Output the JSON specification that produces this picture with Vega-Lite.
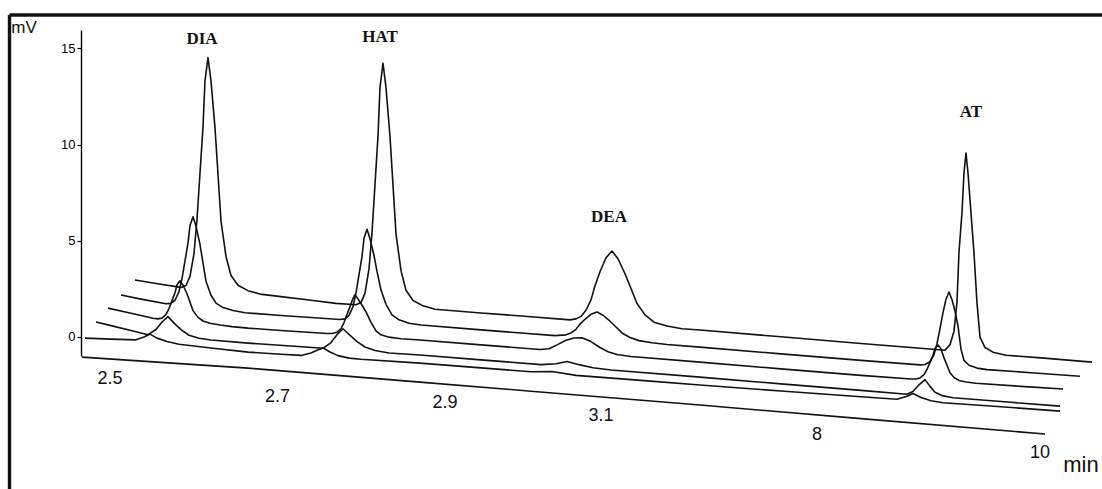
{
  "$schema": "https://vega.github.io/schema/vega-lite/v6.json",
  "width": 1021,
  "height": 326,
  "autosize": {"type": "none"},
  "padding": {"left": 81, "top": 30, "right": 0, "bottom": 133},
  "background": "white",
  "config": {"view": {"stroke": null}},
  "datasets": {
    "traces": [
      {"trace":"T0","t":1,"mV":-1.06},{"trace":"T0","t":80,"mV":-1.33},{"trace":"T0","t":167,"mV":-1.63},{"trace":"T0","t":250,"mV":-1.98},{"trace":"T0","t":339,"mV":-2.36},{"trace":"T0","t":450,"mV":-2.83},{"trace":"T0","t":619,"mV":-3.55},{"trace":"T0","t":780,"mV":-4.26},{"trace":"T0","t":964,"mV":-5.06},

      {"trace":"T1","t":4,"mV":-0.07},{"trace":"T1","t":30,"mV":-0.12},{"trace":"T1","t":55,"mV":-0.16},{"trace":"T1","t":63,"mV":-0.01},{"trace":"T1","t":69,"mV":0.14},{"trace":"T1","t":76,"mV":-0.07},{"trace":"T1","t":86,"mV":-0.25},{"trace":"T1","t":98,"mV":-0.39},{"trace":"T1","t":130,"mV":-0.58},{"trace":"T1","t":167,"mV":-0.80},{"trace":"T1","t":200,"mV":-0.91},{"trace":"T1","t":220,"mV":-0.97},{"trace":"T1","t":230,"mV":-0.84},{"trace":"T1","t":236,"mV":-0.70},{"trace":"T1","t":242,"mV":-0.58},{"trace":"T1","t":249,"mV":-0.79},{"trace":"T1","t":257,"mV":-0.98},{"trace":"T1","t":268,"mV":-1.11},{"trace":"T1","t":280,"mV":-1.17},{"trace":"T1","t":339,"mV":-1.37},{"trace":"T1","t":400,"mV":-1.62},{"trace":"T1","t":450,"mV":-1.82},{"trace":"T1","t":471,"mV":-1.81},{"trace":"T1","t":495,"mV":-2.01},{"trace":"T1","t":560,"mV":-2.27},{"trace":"T1","t":619,"mV":-2.51},{"trace":"T1","t":700,"mV":-2.82},{"trace":"T1","t":780,"mV":-3.12},{"trace":"T1","t":816,"mV":-3.25},{"trace":"T1","t":826,"mV":-3.09},{"trace":"T1","t":832,"mV":-2.95},{"trace":"T1","t":840,"mV":-3.16},{"trace":"T1","t":850,"mV":-3.33},{"trace":"T1","t":862,"mV":-3.43},{"trace":"T1","t":920,"mV":-3.64},{"trace":"T1","t":979,"mV":-3.87},

      {"trace":"T2","t":15,"mV":0.77},{"trace":"T2","t":30,"mV":0.58},{"trace":"T2","t":50,"mV":0.33},{"trace":"T2","t":67,"mV":0.11},{"trace":"T2","t":75,"mV":0.38},{"trace":"T2","t":81,"mV":0.77},{"trace":"T2","t":87,"mV":1.05},{"trace":"T2","t":93,"mV":0.71},{"trace":"T2","t":100,"mV":0.37},{"trace":"T2","t":108,"mV":0.08},{"trace":"T2","t":118,"mV":-0.08},{"trace":"T2","t":130,"mV":-0.17},{"trace":"T2","t":167,"mV":-0.33},{"trace":"T2","t":210,"mV":-0.48},{"trace":"T2","t":242,"mV":-0.60},{"trace":"T2","t":250,"mV":-0.30},{"trace":"T2","t":256,"mV":0.11},{"trace":"T2","t":262,"mV":0.42},{"trace":"T2","t":268,"mV":0.12},{"trace":"T2","t":276,"mV":-0.25},{"trace":"T2","t":284,"mV":-0.53},{"trace":"T2","t":294,"mV":-0.71},{"trace":"T2","t":308,"mV":-0.84},{"trace":"T2","t":339,"mV":-0.95},{"trace":"T2","t":400,"mV":-1.20},{"trace":"T2","t":460,"mV":-1.45},{"trace":"T2","t":475,"mV":-1.40},{"trace":"T2","t":486,"mV":-1.29},{"trace":"T2","t":498,"mV":-1.45},{"trace":"T2","t":512,"mV":-1.61},{"trace":"T2","t":530,"mV":-1.73},{"trace":"T2","t":619,"mV":-2.10},{"trace":"T2","t":700,"mV":-2.45},{"trace":"T2","t":780,"mV":-2.79},{"trace":"T2","t":826,"mV":-2.99},{"trace":"T2","t":832,"mV":-2.85},{"trace":"T2","t":838,"mV":-2.50},{"trace":"T2","t":844,"mV":-2.23},{"trace":"T2","t":849,"mV":-2.58},{"trace":"T2","t":854,"mV":-2.89},{"trace":"T2","t":861,"mV":-3.06},{"trace":"T2","t":872,"mV":-3.17},{"trace":"T2","t":930,"mV":-3.41},{"trace":"T2","t":979,"mV":-3.61},

      {"trace":"T3","t":27,"mV":1.49},{"trace":"T3","t":50,"mV":1.22},{"trace":"T3","t":72,"mV":0.96},{"trace":"T3","t":77,"mV":0.93},{"trace":"T3","t":81,"mV":0.97},{"trace":"T3","t":85,"mV":1.16},{"trace":"T3","t":88,"mV":1.47},{"trace":"T3","t":91,"mV":1.88},{"trace":"T3","t":94,"mV":2.29},{"trace":"T3","t":96,"mV":2.71},{"trace":"T3","t":99,"mV":2.91},{"trace":"T3","t":102,"mV":2.68},{"trace":"T3","t":106,"mV":2.24},{"trace":"T3","t":109,"mV":1.80},{"trace":"T3","t":112,"mV":1.36},{"trace":"T3","t":117,"mV":1.01},{"trace":"T3","t":122,"mV":0.82},{"trace":"T3","t":129,"mV":0.70},{"trace":"T3","t":139,"mV":0.61},{"trace":"T3","t":151,"mV":0.53},{"trace":"T3","t":167,"mV":0.45},{"trace":"T3","t":200,"mV":0.33},{"trace":"T3","t":246,"mV":0.17},{"trace":"T3","t":251,"mV":0.17},{"trace":"T3","t":256,"mV":0.24},{"trace":"T3","t":260,"mV":0.43},{"trace":"T3","t":263,"mV":0.74},{"trace":"T3","t":266,"mV":1.16},{"trace":"T3","t":269,"mV":1.57},{"trace":"T3","t":272,"mV":1.99},{"trace":"T3","t":274,"mV":2.19},{"trace":"T3","t":277,"mV":1.97},{"trace":"T3","t":281,"mV":1.64},{"trace":"T3","t":285,"mV":1.30},{"trace":"T3","t":290,"mV":0.75},{"trace":"T3","t":295,"mV":0.31},{"trace":"T3","t":300,"mV":0.10},{"trace":"T3","t":308,"mV":-0.02},{"trace":"T3","t":320,"mV":-0.10},{"trace":"T3","t":339,"mV":-0.17},{"trace":"T3","t":400,"mV":-0.42},{"trace":"T3","t":459,"mV":-0.66},{"trace":"T3","t":468,"mV":-0.62},{"trace":"T3","t":476,"mV":-0.42},{"trace":"T3","t":485,"mV":-0.18},{"trace":"T3","t":493,"mV":-0.06},{"trace":"T3","t":501,"mV":-0.05},{"trace":"T3","t":510,"mV":-0.25},{"trace":"T3","t":519,"mV":-0.56},{"trace":"T3","t":527,"mV":-0.78},{"trace":"T3","t":536,"mV":-0.92},{"trace":"T3","t":550,"mV":-1.03},{"trace":"T3","t":619,"mV":-1.32},{"trace":"T3","t":700,"mV":-1.67},{"trace":"T3","t":780,"mV":-2.01},{"trace":"T3","t":830,"mV":-2.20},{"trace":"T3","t":835,"mV":-2.20},{"trace":"T3","t":839,"mV":-2.14},{"trace":"T3","t":843,"mV":-1.97},{"trace":"T3","t":846,"mV":-1.70},{"trace":"T3","t":849,"mV":-1.33},{"trace":"T3","t":852,"mV":-0.97},{"trace":"T3","t":854,"mV":-0.60},{"trace":"T3","t":857,"mV":-0.43},{"trace":"T3","t":860,"mV":-0.62},{"trace":"T3","t":863,"mV":-1.10},{"trace":"T3","t":866,"mV":-1.48},{"trace":"T3","t":869,"mV":-1.87},{"trace":"T3","t":873,"mV":-2.12},{"trace":"T3","t":878,"mV":-2.27},{"trace":"T3","t":885,"mV":-2.35},{"trace":"T3","t":895,"mV":-2.42},{"trace":"T3","t":940,"mV":-2.58},{"trace":"T3","t":982,"mV":-2.72},

      {"trace":"T4","t":40,"mV":2.17},{"trace":"T4","t":60,"mV":1.96},{"trace":"T4","t":85,"mV":1.72},{"trace":"T4","t":90,"mV":1.74},{"trace":"T4","t":94,"mV":1.90},{"trace":"T4","t":98,"mV":2.35},{"trace":"T4","t":101,"mV":3.03},{"trace":"T4","t":104,"mV":3.95},{"trace":"T4","t":107,"mV":4.87},{"trace":"T4","t":109,"mV":5.79},{"trace":"T4","t":112,"mV":6.24},{"trace":"T4","t":115,"mV":5.76},{"trace":"T4","t":119,"mV":4.80},{"trace":"T4","t":122,"mV":3.84},{"trace":"T4","t":125,"mV":2.89},{"trace":"T4","t":130,"mV":2.16},{"trace":"T4","t":135,"mV":1.75},{"trace":"T4","t":142,"mV":1.52},{"trace":"T4","t":152,"mV":1.37},{"trace":"T4","t":164,"mV":1.25},{"trace":"T4","t":200,"mV":1.11},{"trace":"T4","t":230,"mV":1.00},{"trace":"T4","t":259,"mV":0.90},{"trace":"T4","t":264,"mV":0.93},{"trace":"T4","t":268,"mV":1.11},{"trace":"T4","t":272,"mV":1.57},{"trace":"T4","t":275,"mV":2.28},{"trace":"T4","t":278,"mV":3.23},{"trace":"T4","t":281,"mV":4.17},{"trace":"T4","t":283,"mV":5.12},{"trace":"T4","t":286,"mV":5.59},{"trace":"T4","t":289,"mV":5.10},{"trace":"T4","t":293,"mV":4.23},{"trace":"T4","t":296,"mV":3.40},{"trace":"T4","t":300,"mV":2.43},{"trace":"T4","t":305,"mV":1.69},{"trace":"T4","t":311,"mV":1.14},{"trace":"T4","t":318,"mV":0.88},{"trace":"T4","t":328,"mV":0.70},{"trace":"T4","t":340,"mV":0.61},{"trace":"T4","t":400,"mV":0.36},{"trace":"T4","t":440,"mV":0.20},{"trace":"T4","t":474,"mV":0.06},{"trace":"T4","t":485,"mV":0.10},{"trace":"T4","t":490,"mV":0.20},{"trace":"T4","t":495,"mV":0.39},{"trace":"T4","t":499,"mV":0.66},{"trace":"T4","t":504,"mV":0.91},{"trace":"T4","t":510,"mV":1.17},{"trace":"T4","t":516,"mV":1.29},{"trace":"T4","t":522,"mV":1.12},{"trace":"T4","t":529,"mV":0.81},{"trace":"T4","t":535,"mV":0.51},{"trace":"T4","t":541,"mV":0.20},{"trace":"T4","t":549,"mV":-0.04},{"trace":"T4","t":558,"mV":-0.20},{"trace":"T4","t":571,"mV":-0.31},{"trace":"T4","t":586,"mV":-0.40},{"trace":"T4","t":619,"mV":-0.54},{"trace":"T4","t":700,"mV":-0.89},{"trace":"T4","t":780,"mV":-1.23},{"trace":"T4","t":839,"mV":-1.46},{"trace":"T4","t":844,"mV":-1.44},{"trace":"T4","t":849,"mV":-1.30},{"trace":"T4","t":853,"mV":-0.93},{"trace":"T4","t":856,"mV":-0.35},{"trace":"T4","t":859,"mV":0.42},{"trace":"T4","t":862,"mV":1.26},{"trace":"T4","t":865,"mV":1.95},{"trace":"T4","t":868,"mV":2.33},{"trace":"T4","t":871,"mV":1.93},{"trace":"T4","t":874,"mV":1.34},{"trace":"T4","t":877,"mV":0.55},{"trace":"T4","t":880,"mV":-0.64},{"trace":"T4","t":883,"mV":-1.23},{"trace":"T4","t":888,"mV":-1.48},{"trace":"T4","t":896,"mV":-1.63},{"trace":"T4","t":906,"mV":-1.71},{"trace":"T4","t":950,"mV":-1.87},{"trace":"T4","t":999,"mV":-2.05},

      {"trace":"T5","t":54,"mV":2.95},{"trace":"T5","t":75,"mV":2.77},{"trace":"T5","t":100,"mV":2.57},{"trace":"T5","t":105,"mV":2.67},{"trace":"T5","t":109,"mV":3.14},{"trace":"T5","t":113,"mV":4.33},{"trace":"T5","t":116,"mV":6.12},{"trace":"T5","t":119,"mV":8.52},{"trace":"T5","t":122,"mV":10.92},{"trace":"T5","t":124,"mV":13.33},{"trace":"T5","t":127,"mV":14.52},{"trace":"T5","t":130,"mV":13.30},{"trace":"T5","t":134,"mV":10.87},{"trace":"T5","t":137,"mV":8.44},{"trace":"T5","t":140,"mV":6.02},{"trace":"T5","t":145,"mV":4.18},{"trace":"T5","t":150,"mV":3.19},{"trace":"T5","t":157,"mV":2.68},{"trace":"T5","t":167,"mV":2.40},{"trace":"T5","t":179,"mV":2.22},{"trace":"T5","t":200,"mV":2.09},{"trace":"T5","t":230,"mV":1.90},{"trace":"T5","t":255,"mV":1.74},{"trace":"T5","t":275,"mV":1.67},{"trace":"T5","t":280,"mV":1.78},{"trace":"T5","t":284,"mV":2.27},{"trace":"T5","t":288,"mV":3.53},{"trace":"T5","t":291,"mV":5.41},{"trace":"T5","t":294,"mV":7.93},{"trace":"T5","t":297,"mV":10.45},{"trace":"T5","t":299,"mV":12.98},{"trace":"T5","t":302,"mV":14.23},{"trace":"T5","t":305,"mV":12.96},{"trace":"T5","t":309,"mV":10.42},{"trace":"T5","t":312,"mV":7.89},{"trace":"T5","t":315,"mV":5.35},{"trace":"T5","t":320,"mV":3.44},{"trace":"T5","t":325,"mV":2.42},{"trace":"T5","t":332,"mV":1.89},{"trace":"T5","t":342,"mV":1.61},{"trace":"T5","t":354,"mV":1.43},{"trace":"T5","t":400,"mV":1.24},{"trace":"T5","t":450,"mV":1.04},{"trace":"T5","t":489,"mV":0.88},{"trace":"T5","t":495,"mV":0.93},{"trace":"T5","t":500,"mV":1.06},{"trace":"T5","t":505,"mV":1.38},{"trace":"T5","t":510,"mV":1.92},{"trace":"T5","t":514,"mV":2.65},{"trace":"T5","t":519,"mV":3.38},{"trace":"T5","t":525,"mV":4.11},{"trace":"T5","t":531,"mV":4.46},{"trace":"T5","t":537,"mV":4.06},{"trace":"T5","t":544,"mV":3.28},{"trace":"T5","t":550,"mV":2.51},{"trace":"T5","t":556,"mV":1.73},{"trace":"T5","t":564,"mV":1.14},{"trace":"T5","t":573,"mV":0.76},{"trace":"T5","t":586,"mV":0.56},{"trace":"T5","t":601,"mV":0.42},{"trace":"T5","t":619,"mV":0.35},{"trace":"T5","t":700,"mV":0.00},{"trace":"T5","t":780,"mV":-0.35},{"trace":"T5","t":830,"mV":-0.56},{"trace":"T5","t":864,"mV":-0.70},{"trace":"T5","t":869,"mV":-0.41},{"trace":"T5","t":873,"mV":0.29},{"trace":"T5","t":876,"mV":1.83},{"trace":"T5","t":878,"mV":4.41},{"trace":"T5","t":881,"mV":6.47},{"trace":"T5","t":883,"mV":8.53},{"trace":"T5","t":885,"mV":9.56},{"trace":"T5","t":887,"mV":8.52},{"trace":"T5","t":890,"mV":6.43},{"trace":"T5","t":893,"mV":4.35},{"trace":"T5","t":896,"mV":1.75},{"trace":"T5","t":899,"mV":-0.02},{"trace":"T5","t":904,"mV":-0.56},{"trace":"T5","t":912,"mV":-0.80},{"trace":"T5","t":925,"mV":-0.96},{"trace":"T5","t":960,"mV":-1.10},{"trace":"T5","t":1011,"mV":-1.32}
    ],
    "labels": [
      {"group":"peak","label":"DIA","t":121,"mV":15.49},
      {"group":"peak","label":"HAT","t":299,"mV":15.57},
      {"group":"peak","label":"DEA","t":528,"mV":6.25},
      {"group":"peak","label":"AT","t":890,"mV":11.72},
      {"group":"time","label":"2.5","t":29,"mV":-2.18},
      {"group":"time","label":"2.7","t":196.5,"mV":-3.11},
      {"group":"time","label":"2.9","t":364,"mV":-3.42},
      {"group":"time","label":"3.1","t":520,"mV":-4.10},
      {"group":"time","label":"8","t":736,"mV":-5.12},
      {"group":"time","label":"10","t":959,"mV":-6.05},
      {"group":"unit","label":"min","t":1000,"mV":-6.65},
      {"group":"yunit","label":"mV","t":-57,"mV":16.04}
    ],
    "frame": [
      {"t":-71.5,"t2":1040,"mV":16.74,"mV2":16.74},
      {"t":-71.5,"t2":-71.5,"mV":16.74,"mV2":-9}
    ]
  },
  "encoding": {
    "x": {"field":"t","type":"quantitative","scale":{"domain":[0,1021],"nice":false,"zero":false},"axis":null},
    "y": {"field":"mV","type":"quantitative","scale":{"domain":[-1,15.96],"nice":false,"zero":false},
      "axis":{"values":[0,5,10,15],"grid":false,"title":null,"domainColor":"#000","domainWidth":1.4,"tickColor":"#000","tickSize":4,"tickWidth":1.2,"labelFont":"Liberation Sans","labelFontSize":13,"labelColor":"#000","labelPadding":2}}
  },
  "layer": [
    {"data":{"name":"frame"},"mark":{"type":"rule","color":"#111","strokeWidth":3.4},
     "encoding":{"x2":{"field":"t2"},"y2":{"field":"mV2"}}},
    {"data":{"name":"traces"},"mark":{"type":"line","color":"#111","strokeWidth":1.6,"strokeJoin":"round"},
     "encoding":{"detail":{"field":"trace","type":"nominal"}}},
    {"data":{"name":"labels"},"transform":[{"filter":"datum.group === 'peak'"}],
     "mark":{"type":"text","font":"Liberation Serif","fontSize":17,"fontWeight":"bold","color":"#111","align":"center","baseline":"middle"},
     "encoding":{"text":{"field":"label"}}},
    {"data":{"name":"labels"},"transform":[{"filter":"datum.group === 'time'"}],
     "mark":{"type":"text","font":"Liberation Sans","fontSize":18,"color":"#111","align":"center","baseline":"middle"},
     "encoding":{"text":{"field":"label"}}},
    {"data":{"name":"labels"},"transform":[{"filter":"datum.group === 'unit'"}],
     "mark":{"type":"text","font":"Liberation Sans","fontSize":22,"color":"#111","align":"center","baseline":"middle"},
     "encoding":{"text":{"field":"label"}}},
    {"data":{"name":"labels"},"transform":[{"filter":"datum.group === 'yunit'"}],
     "mark":{"type":"text","font":"Liberation Sans","fontSize":17,"color":"#111","align":"center","baseline":"middle"},
     "encoding":{"text":{"field":"label"}}}
  ]
}
